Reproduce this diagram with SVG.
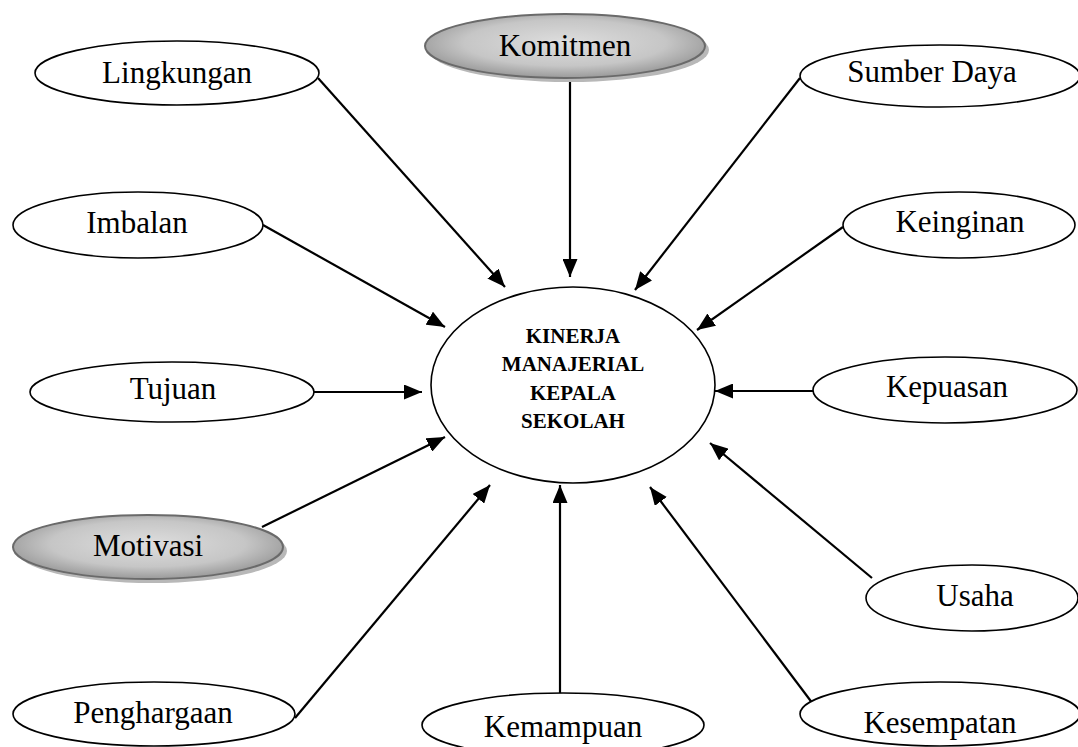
<svg xmlns="http://www.w3.org/2000/svg" width="1078" height="747" viewBox="0 0 1078 747">
<style>
.n{fill:#fff;stroke:#000;stroke-width:1.6}
.s{fill:url(#g);stroke:#6a6a6a;stroke-width:2}
.sh{fill:#b8b8b8;stroke:none}
.t{font-family:"Liberation Serif","Times New Roman",serif;font-size:31px;fill:#000;text-anchor:middle}
.c{font-family:"Liberation Serif","Times New Roman",serif;font-size:21px;font-weight:bold;fill:#000;text-anchor:middle}
.e{stroke:#000;stroke-width:2.2;fill:none;marker-end:url(#a)}
</style>
<defs>
<radialGradient id="g" cx="50%" cy="45%" r="60%">
<stop offset="0" stop-color="#dedede"/>
<stop offset="0.6" stop-color="#c6c6c6"/>
<stop offset="1" stop-color="#8e8e8e"/>
</radialGradient>
<marker id="a" markerUnits="userSpaceOnUse" markerWidth="19" markerHeight="15" refX="18" refY="7.5" orient="auto">
<path d="M0,0 L18,7.5 L0,15 z" fill="#000"/>
</marker>
</defs>
<g id="connectors">
<line class="e" x1="318" y1="78" x2="505" y2="287"/>
<line class="e" x1="570" y1="78" x2="570" y2="277"/>
<line class="e" x1="800" y1="78" x2="635" y2="290"/>
<line class="e" x1="263" y1="225" x2="445" y2="327"/>
<line class="e" x1="843" y1="227" x2="697" y2="330"/>
<line class="e" x1="313" y1="392" x2="422" y2="392"/>
<line class="e" x1="813" y1="391" x2="715" y2="391"/>
<line class="e" x1="262" y1="527" x2="445" y2="437"/>
<line class="e" x1="872" y1="578" x2="710" y2="443"/>
<line class="e" x1="295" y1="718" x2="490" y2="485"/>
<line class="e" x1="560" y1="693" x2="560" y2="485"/>
<line class="e" x1="813" y1="704" x2="650" y2="487"/>
</g>
<g id="center">
<ellipse class="n" cx="573" cy="385" rx="142" ry="98"/>
<text class="c" x="573" y="343">KINERJA</text>
<text class="c" x="573" y="371">MANAJERIAL</text>
<text class="c" x="573" y="400">KEPALA</text>
<text class="c" x="573" y="428">SEKOLAH</text>
</g>
<g id="lingkungan">
<ellipse class="n" cx="177" cy="73" rx="142" ry="32"/>
<text class="t" x="177" y="83">Lingkungan</text>
</g>
<g id="komitmen">
<ellipse class="sh" cx="569" cy="50" rx="140" ry="32"/>
<ellipse class="s" cx="565" cy="46" rx="140" ry="32"/>
<text class="t" x="565" y="56">Komitmen</text>
</g>
<g id="sumber-daya">
<ellipse class="n" cx="940" cy="76" rx="140" ry="31"/>
<text class="t" x="932" y="82">Sumber Daya</text>
</g>
<g id="imbalan">
<ellipse class="n" cx="138" cy="225" rx="125" ry="33"/>
<text class="t" x="137" y="233">Imbalan</text>
</g>
<g id="keinginan">
<ellipse class="n" cx="959" cy="225" rx="116" ry="33"/>
<text class="t" x="960" y="232">Keinginan</text>
</g>
<g id="tujuan">
<ellipse class="n" cx="172" cy="392" rx="142" ry="30"/>
<text class="t" x="173" y="399">Tujuan</text>
</g>
<g id="kepuasan">
<ellipse class="n" cx="945" cy="390" rx="132" ry="33"/>
<text class="t" x="947" y="397">Kepuasan</text>
</g>
<g id="motivasi">
<ellipse class="sh" cx="152" cy="551" rx="135" ry="32"/>
<ellipse class="s" cx="148" cy="547" rx="135" ry="32"/>
<text class="t" x="148" y="556">Motivasi</text>
</g>
<g id="usaha">
<ellipse class="n" cx="972" cy="598" rx="106" ry="33"/>
<text class="t" x="975" y="606">Usaha</text>
</g>
<g id="penghargaan">
<ellipse class="n" cx="154" cy="714" rx="141" ry="32"/>
<text class="t" x="153" y="723">Penghargaan</text>
</g>
<g id="kemampuan">
<ellipse class="n" cx="563" cy="725" rx="141" ry="32"/>
<text class="t" x="563" y="737">Kemampuan</text>
</g>
<g id="kesempatan">
<ellipse class="n" cx="940" cy="714" rx="140" ry="32"/>
<text class="t" x="940" y="733">Kesempatan</text>
</g>
</svg>
